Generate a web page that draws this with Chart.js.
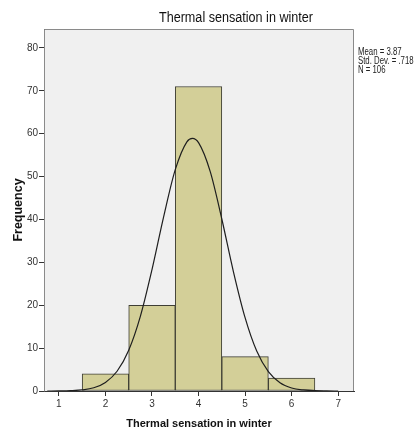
<!DOCTYPE html>
<html>
<head>
<meta charset="utf-8">
<script src="https://cdn.jsdelivr.net/npm/chart.js@4"></script>
<style>
html, body { margin:0; padding:0; background:#fff; }
#wrap { width:417px; height:432px; }
</style>
</head>
<body>
<div id="wrap"><canvas id="grafico" width="417" height="432"></canvas></div>
<script>
// histogram bins (midpoints) and frequencies
var classes = [2, 3, 4, 5, 6];
var frequencias = [4, 20, 71, 8, 3];

// normal curve
var curvaX = [0.75, 1, 1.25, 1.5, 1.75, 2, 2.25, 2.5, 2.75, 3, 3.25, 3.5, 3.75, 3.87, 4, 4.25, 4.5, 4.75, 5, 5.25, 5.5, 5.75, 6, 6.25, 6.5, 6.75, 7];
var curvaY = [0, 0.02, 0.08, 0.25, 0.75, 2, 4.6, 9.5, 17.4, 28.3, 40.6, 51.6, 58.1, 58.9, 57.9, 51.2, 40.1, 27.8, 17.1, 9.3, 4.5, 1.9, 0.7, 0.24, 0.07, 0.02, 0];

var ticksX = [1, 2, 3, 4, 5, 6, 7];
var ticksY = [0, 10, 20, 30, 40, 50, 60, 70, 80];

var titulo = 'Thermal sensation in winter';
var estatisticas = ['Mean = 3.87', 'Std. Dev. = .718', 'N = 106'];

var barras = classes.map(function (c, i) { return { x: c, y: frequencias[i] }; });
var curva = curvaX.map(function (x, i) { return { x: x, y: curvaY[i] }; });

var moldura = {
  id: 'moldura',
  beforeDraw: function (chart) {
    var a = chart.chartArea, ctx = chart.ctx;
    ctx.save();
    ctx.fillStyle = '#f0f0f0';
    ctx.fillRect(a.left, a.top, a.right - a.left, a.bottom - a.top);
    ctx.restore();
  },
  afterDraw: function (chart) {
    var a = chart.chartArea, ctx = chart.ctx;
    ctx.save();
    ctx.strokeStyle = '#8a8a8a';
    ctx.lineWidth = 1;
    ctx.beginPath();
    ctx.moveTo(a.left + 0.5, a.bottom);
    ctx.lineTo(a.left + 0.5, a.top + 0.5);
    ctx.lineTo(a.right - 0.5, a.top + 0.5);
    ctx.lineTo(a.right - 0.5, a.bottom);
    ctx.stroke();
    ctx.restore();

    // title
    ctx.save();
    ctx.fillStyle = '#111';
    ctx.font = '14px "Liberation Sans", Arial, sans-serif';
    ctx.textAlign = 'center';
    ctx.textBaseline = 'middle';
    ctx.translate(236, 18);
    ctx.scale(0.9, 1);
    ctx.fillText(titulo, 0, 0);
    ctx.restore();

    // stats box (condensed like the SPSS output)
    ctx.save();
    ctx.font = '10px "Liberation Sans", Arial, sans-serif';
    ctx.textAlign = 'left';
    ctx.textBaseline = 'middle';
    ctx.fillStyle = '#222';
    ctx.translate(358, 0);
    ctx.scale(0.78, 1);
    estatisticas.forEach(function (t, i) {
      ctx.fillText(t, 0, 52.5 + i * 9);
    });
    ctx.restore();
  }
};

var ctx = document.getElementById('grafico').getContext('2d');
var myChart = new Chart(ctx, {
  type: 'bar',
  data: {
    datasets: [{
      type: 'line',
      data: curva,
      borderColor: '#1e1e1e',
      borderWidth: 1.2,
      pointRadius: 0,
      fill: false,
      cubicInterpolationMode: 'monotone',
      order: 0
    }, {
      type: 'bar',
      data: barras,
      backgroundColor: '#d3cf98',
      borderColor: '#3e3e34',
      borderWidth: 1,
      borderSkipped: false,
      barPercentage: 1,
      categoryPercentage: 1,
      grouped: false,
      order: 1
    }]
  },
  options: {
    responsive: false,
    animation: false,
    layout: { padding: { top: 29, right: 63, left: 0, bottom: 0 } },
    plugins: {
      legend: { display: false },
      tooltip: { enabled: false },
      title: { display: false }
    },
    scales: {
      x: {
        type: 'linear',
        min: 0.68,
        max: 7.34,
        offset: false,
        afterBuildTicks: function (s) { s.ticks = ticksX.map(function (v) { return { value: v }; }); },
        afterFit: function (s) { s.height = 41; },
        grid: { drawOnChartArea: false, drawTicks: true, tickLength: 5, color: '#333', offset: false },
        border: { display: true, color: '#333', width: 1 },
        ticks: { color: '#333', padding: 2, maxRotation: 0, font: { size: 10, family: '"Liberation Sans", Arial, sans-serif' } },
        title: { display: true, text: 'Thermal sensation in winter', color: '#111', padding: { top: 0, bottom: 1 },
                 font: { size: 11, weight: 'bold', family: '"Liberation Sans", Arial, sans-serif' } }
      },
      y: {
        min: 0,
        max: 84.4,
        afterBuildTicks: function (s) { s.ticks = ticksY.map(function (v) { return { value: v }; }); },
        afterFit: function (s) { s.width = 44; },
        grid: { drawOnChartArea: false, drawTicks: true, tickLength: 5, color: '#333' },
        border: { display: true, color: '#555', width: 1 },
        ticks: { color: '#333', padding: 1, font: { size: 10, family: '"Liberation Sans", Arial, sans-serif' } },
        title: { display: true, text: 'Frequency', color: '#111', padding: { top: 11, bottom: 0 },
                 font: { size: 12.5, weight: 'bold', family: '"Liberation Sans", Arial, sans-serif' } }
      }
    }
  },
  plugins: [moldura]
});
</script>
</body>
</html>
